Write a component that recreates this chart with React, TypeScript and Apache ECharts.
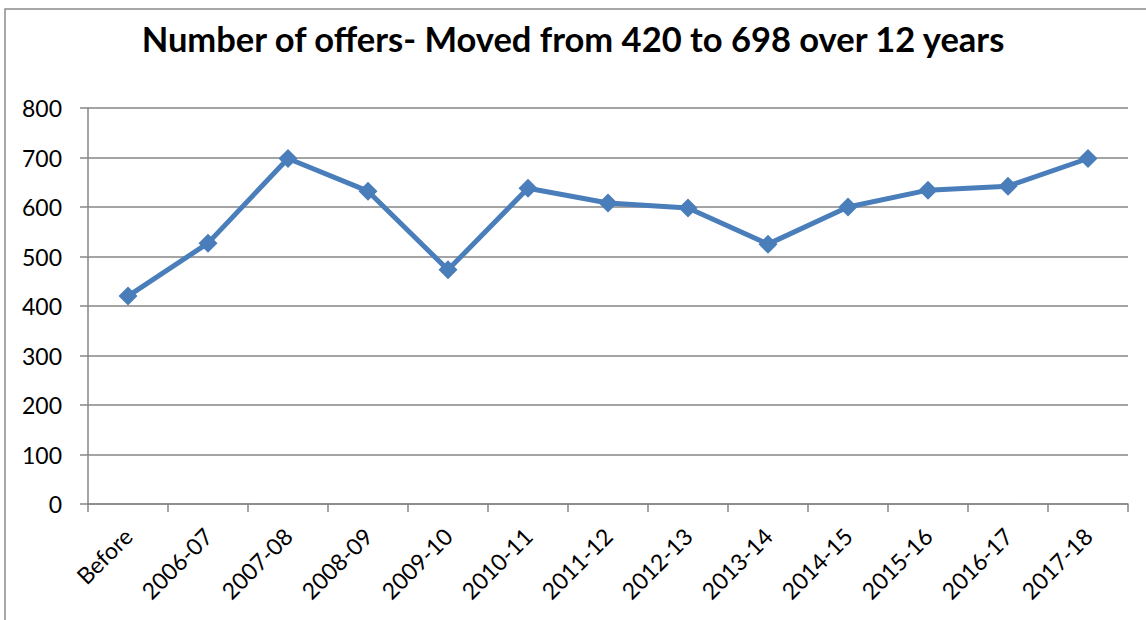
import React, { useEffect, useRef } from "react";
import * as echarts from "echarts";

const titleText = "Number of offers- Moved from 420 to 698 over 12 years";
const categories = [
  "Before", "2006-07", "2007-08", "2008-09", "2009-10", "2010-11", "2011-12",
  "2012-13", "2013-14", "2014-15", "2015-16", "2016-17", "2017-18",
];
const offers = [420, 527, 698, 632, 473, 638, 608, 598, 525, 600, 634, 642, 698];

export default function App() {
  const ref = useRef<HTMLDivElement>(null);
  useEffect(() => {
    if (!ref.current) return;
    const chart = echarts.init(ref.current, null, { renderer: "svg" });
    const font = "Lato, 'Open Sans', sans-serif";
    chart.setOption({
      animation: false,
      backgroundColor: "#ffffff",
      title: {
        text: titleText,
        left: "center",
        top: 16,
        textStyle: { fontFamily: font, fontWeight: "bold", fontSize: 34.5, color: "#000" },
      },
      graphic: [
        {
          type: "rect",
          shape: { x: 5, y: 9, width: 1150, height: 620 },
          style: { fill: "none", stroke: "#8c8c8c", lineWidth: 1.5 },
        },
      ],
      grid: { left: 88, right: 18, top: 108, bottom: 116 },
      xAxis: {
        type: "category",
        data: categories,
        boundaryGap: true,
        axisLine: { lineStyle: { color: "#868686", width: 1.5 } },
        axisTick: { show: true, length: 8, alignWithLabel: false, lineStyle: { color: "#868686", width: 1.5 } },
        axisLabel: { rotate: 45, fontFamily: font, fontSize: 23, color: "#000", margin: 28, interval: 0 },
      },
      yAxis: {
        type: "value",
        min: 0,
        max: 800,
        interval: 100,
        axisLine: { show: true, lineStyle: { color: "#868686", width: 1.5 } },
        axisTick: { show: true, length: 8, lineStyle: { color: "#868686", width: 1.5 } },
        axisLabel: { fontFamily: font, fontSize: 23, color: "#000", margin: 26 },
        splitLine: { lineStyle: { color: "#868686", width: 1.5 } },
      },
      series: [
        {
          type: "line",
          data: offers,
          symbol: "diamond",
          symbolSize: 19,
          lineStyle: { color: "#4a7ebb", width: 5 },
          itemStyle: { color: "#4a7ebb" },
        },
      ],
    });
    return () => chart.dispose();
  }, []);
  return (
    <div
      ref={ref}
      style={{ position: "fixed", left: 0, top: 0, width: 1146, height: 620 }}
    />
  );
}
